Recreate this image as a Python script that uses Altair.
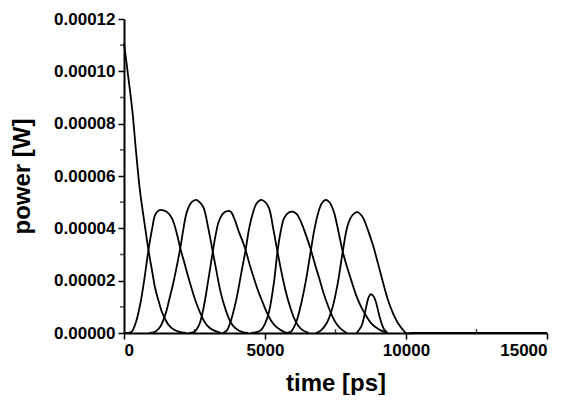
import altair as alt
import pandas as pd

# ---- data (time in ps, power in W) ----
t0 = [0, 150, 296, 430, 570, 720, 867, 1000, 1105, 1220, 1342, 1460, 1580, 1750, 1936, 2200]
p0 = [1.108e-4, 9.8e-5, 8.5e-5, 6.9e-5, 5.4e-5, 4.25e-5, 3.17e-5, 2.35e-5, 1.71e-5, 1.25e-5,
      8.1e-6, 5.3e-6, 3.1e-6, 1.4e-6, 5e-7, 0]

t1 = [0, 150, 274, 420, 570, 720, 867, 1000, 1105, 1230, 1366, 1530, 1698, 1850, 1996, 2150,
      2292, 2440, 2589, 2740, 2887, 3050, 3243, 3450]
p1 = [0, 0, 5e-7, 4e-6, 1.07e-5, 2.05e-5, 3.17e-5, 4.0e-5, 4.51e-5, 4.68e-5, 4.70e-5, 4.62e-5,
      4.39e-5, 3.9e-5, 3.24e-5, 2.65e-5, 2.09e-5, 1.55e-5, 1.07e-5, 6.8e-6, 3.7e-6, 1.8e-6, 7e-7, 0]

t2 = [900, 1105, 1290, 1461, 1610, 1758, 1880, 1996, 2110, 2233, 2400, 2556, 2700, 2827, 2990,
      3148, 3290, 3421, 3570, 3717, 3850, 3955, 4200, 4400]
p2 = [0, 5e-7, 2.5e-6, 6.9e-6, 1.3e-5, 1.96e-5, 2.6e-5, 3.24e-5, 4.0e-5, 4.64e-5, 5.0e-5, 5.09e-5,
      4.98e-5, 4.77e-5, 4.0e-5, 3.11e-5, 2.3e-5, 1.58e-5, 1.0e-5, 5.6e-6, 3.0e-6, 1.8e-6, 3e-7, 0]

t3 = [2300, 2500, 2660, 2810, 2980, 3148, 3250, 3361, 3500, 3660, 3778, 3920, 4073, 4190, 4312,
      4460, 4608, 4760, 4907, 5050, 5203, 5380, 5560, 5750]
p3 = [0, 5e-7, 3e-6, 9e-6, 1.96e-5, 3.11e-5, 3.75e-5, 4.26e-5, 4.55e-5, 4.66e-5, 4.64e-5, 4.35e-5,
      3.87e-5, 3.55e-5, 3.17e-5, 2.6e-5, 2.09e-5, 1.6e-5, 1.2e-5, 8.2e-6, 5e-6, 2.5e-6, 1.1e-6, 0]

t4 = [3500, 3650, 3778, 3900, 4016, 4160, 4312, 4430, 4551, 4700, 4872, 5010, 5143, 5290, 5442,
      5590, 5738, 5890, 6035, 6180, 6333, 6550]
p4 = [0, 1e-6, 4.3e-6, 9e-6, 1.45e-5, 2.3e-5, 3.17e-5, 3.95e-5, 4.51e-5, 4.95e-5, 5.09e-5, 5.0e-5,
      4.77e-5, 4.0e-5, 3.11e-5, 2.3e-5, 1.58e-5, 1.0e-5, 5.6e-6, 2.8e-6, 1.1e-6, 0]

t5 = [4500, 4700, 4847, 5000, 5143, 5321, 5442, 5560, 5677, 5830, 5976, 6120, 6272, 6450, 6628,
      6780, 6924, 7070, 7224, 7370, 7520, 7700, 7900]
p5 = [0, 3e-7, 1e-6, 3.5e-6, 8.1e-6, 1.96e-5, 3.11e-5, 3.9e-5, 4.39e-5, 4.6e-5, 4.64e-5, 4.55e-5,
      4.26e-5, 3.75e-5, 3.17e-5, 2.6e-5, 2.09e-5, 1.55e-5, 1.07e-5, 6.8e-6, 3.7e-6, 1.5e-6, 0]

t6 = [5700, 5916, 6100, 6272, 6450, 6628, 6750, 6867, 7010, 7163, 7300, 7450, 7600, 7757, 7900,
      8054, 8230, 8410, 8590, 8767, 8950, 9123, 9350]
p6 = [0, 5e-7, 4e-6, 1.07e-5, 2.0e-5, 3.17e-5, 3.95e-5, 4.51e-5, 4.95e-5, 5.09e-5, 4.98e-5, 4.6e-5,
      3.9e-5, 3.11e-5, 2.55e-5, 2.03e-5, 1.45e-5, 1.0e-5, 6.5e-6, 3.7e-6, 2e-6, 9e-7, 0]

t7 = [6800, 6985, 7200, 7400, 7580, 7757, 7935, 8100, 8268, 8450, 8648, 8830, 9004, 9180, 9361,
      9540, 9718, 9870, 10014, 10300, 15000]
p7 = [0, 1e-6, 4e-6, 1.0e-5, 1.9e-5, 3.11e-5, 4.13e-5, 4.5e-5, 4.62e-5, 4.45e-5, 3.94e-5, 3.35e-5,
      2.67e-5, 1.95e-5, 1.26e-5, 7.5e-6, 3.7e-6, 1.5e-6, 0, 0, 0]

t8 = [8250, 8410, 8500, 8588, 8670, 8742, 8830, 8910, 8990, 9063, 9150, 9241, 9350]
p8 = [0, 2.4e-6, 5.5e-6, 1.0e-5, 1.35e-5, 1.48e-5, 1.43e-5, 1.26e-5, 9.5e-6, 6.2e-6, 3.2e-6, 1.1e-6, 0]

x_major = [0, 5000, 10000, 15000]
x_minor = [2500, 7500, 12500]
y_major = [0, 0.00002, 0.00004, 0.00006, 0.00008, 0.00010, 0.00012]
y_minor = [0.00001, 0.00003, 0.00005, 0.00007, 0.00009, 0.00011]

pulses = [(t0, p0), (t1, p1), (t2, p2), (t3, p3), (t4, p4), (t5, p5), (t6, p6), (t7, p7), (t8, p8)]
rows = []
for i, (ts, ps) in enumerate(pulses):
    for t, p in zip(ts, ps):
        rows.append({"time": t, "power": p, "pulse": i})
df = pd.DataFrame(rows)

xs = alt.Scale(domain=[0, 15000], nice=False)
ys = alt.Scale(domain=[0, 0.00012], nice=False)

lines = alt.Chart(df).mark_line(color="black", strokeWidth=1.8, interpolate="catmull-rom").encode(
    x=alt.X("time:Q", scale=xs,
            axis=alt.Axis(values=x_major, format="d", title="time [ps]", titlePadding=13)),
    y=alt.Y("power:Q", scale=ys,
            axis=alt.Axis(values=y_major, format=".5f", title="power [W]", titlePadding=19)),
    detail="pulse:N",
)

xminor_df = pd.DataFrame({"time": x_minor, "power": [0] * len(x_minor)})
yminor_df = pd.DataFrame({"time": [0] * len(y_minor), "power": y_minor})

xmin = alt.Chart(xminor_df).mark_tick(orient="vertical", size=4, thickness=1.5, color="black",
                                      yOffset=-2).encode(
    x=alt.X("time:Q", scale=xs), y=alt.Y("power:Q", scale=ys))
ymin = alt.Chart(yminor_df).mark_tick(orient="horizontal", size=4, thickness=1.5, color="black",
                                      xOffset=-2).encode(
    x=alt.X("time:Q", scale=xs), y=alt.Y("power:Q", scale=ys))

chart = alt.layer(lines, xmin, ymin).properties(
    width=423, height=314,
    autosize=alt.AutoSizeParams(type="none"),
    padding={"left": 116, "top": 11, "right": 18, "bottom": 62},
    background="white",
).configure_view(stroke=None).configure_axis(
    grid=False,
    domainColor="black", domainWidth=2,
    tickColor="black", tickWidth=1.5, tickSize=6,
    labelFont="Liberation Sans", labelFontWeight="bold", labelFontSize=17, labelColor="black",
    labelPadding=3,
    titleFont="Liberation Sans", titleFontWeight="bold", titleFontSize=24, titleColor="black",
)

chart.save("out.html", embed_options={"renderer": "svg", "actions": False})
